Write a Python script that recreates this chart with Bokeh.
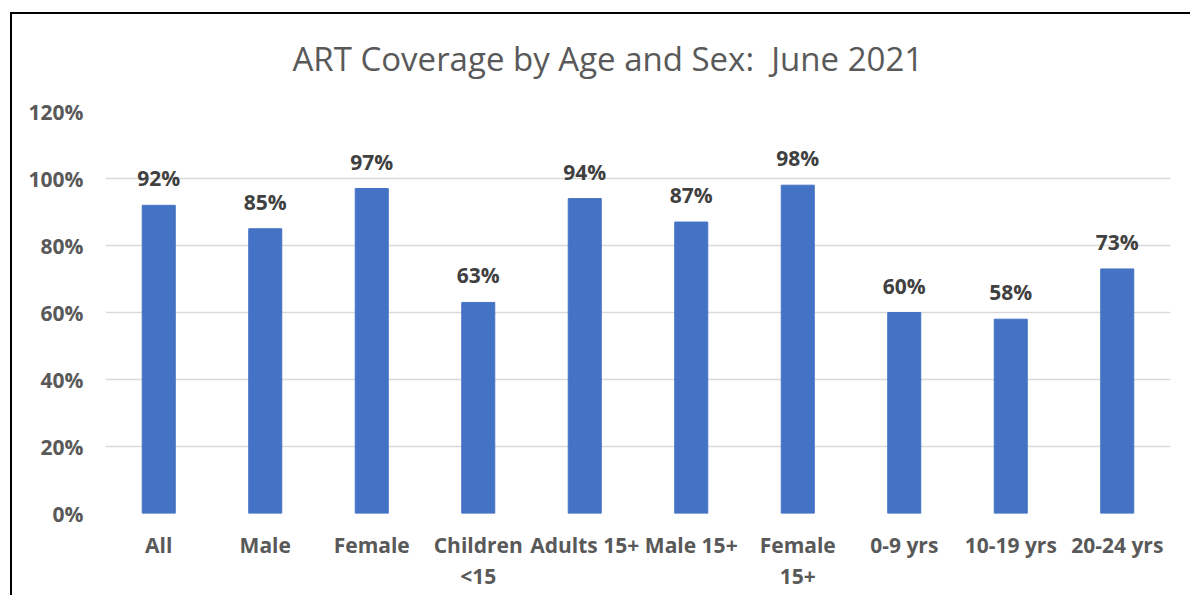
from bokeh.plotting import figure
from bokeh.models import ColumnDataSource, FixedTicker, NumeralTickFormatter
from bokeh.core.properties import value
from bokeh.embed import file_html
from bokeh.resources import INLINE

title_text = "ART Coverage by Age and Sex:\u00a0 June 2021"
categories = ["All", "Male", "Female", "Children\n<15", "Adults 15+", "Male 15+",
              "Female\n15+", "0-9 yrs", "10-19 yrs", "20-24 yrs"]
coverage = [0.92, 0.85, 0.97, 0.63, 0.94, 0.87, 0.98, 0.60, 0.58, 0.73]
labels = [f"{round(v * 100)}%" for v in coverage]
y_ticks = [0, 0.2, 0.4, 0.6, 0.8, 1.0, 1.2]

FONT = "Open Sans"

src = ColumnDataSource(dict(cat=categories, val=coverage, lab=labels))

p = figure(x_range=categories, y_range=(0, 1.2), width=1190, height=595,
           output_backend="svg", toolbar_location=None,
           min_border_left=105, min_border_right=20, min_border_top=111,
           min_border_bottom=82, outline_line_color=None,
           border_fill_color=None, background_fill_color="#FFFFFF",
           title=title_text)
# chart-area border (left and top edges; the rest runs off the page),
# painted behind the transparent canvas border area
p.styles = {
    "background": ("linear-gradient(#000000, #000000) 10px 12px / 2px 100% no-repeat, "
                   "linear-gradient(#000000, #000000) 10px 12px / 100% 2px no-repeat, "
                   "#FFFFFF"),
}
p.x_range.range_padding = 0

p.title.align = "left"
p.title.text_font = FONT
p.title.text_font_style = "normal"
p.title.text_font_size = "33px"
p.title.text_color = "#595959"
p.title.offset = 187
p.title.standoff = 62

p.vbar(x="cat", top="val", width=0.31, source=src, fill_color="#4472C4",
       line_color="#4472C4")
p.text(x="cat", y="val", text="lab", source=src, text_align="center",
       text_baseline="alphabetic", y_offset=-27, text_font=value(FONT),
       text_font_size="21px", text_font_style="bold", text_color="#404040")

p.yaxis.ticker = FixedTicker(ticks=y_ticks)
p.yaxis.formatter = NumeralTickFormatter(format="0%")
for ax in (p.xaxis, p.yaxis):
    ax.axis_line_color = None
    ax.major_tick_line_color = None
    ax.minor_tick_line_color = None
    ax.major_tick_out = 0
    ax.major_tick_in = 0
    ax.major_label_text_font = FONT
    ax.major_label_text_font_size = "21px"
    ax.major_label_text_font_style = "bold"
    ax.major_label_text_color = "#595959"
p.yaxis.major_label_standoff = 22
p.xaxis.major_label_standoff = 17
p.xaxis.major_label_text_line_height = 1.12

p.xgrid.grid_line_color = None
p.ygrid.ticker = FixedTicker(ticks=y_ticks)
p.ygrid.grid_line_color = "#D9D9D9"
p.ygrid.grid_line_width = 1.5

open("out.html", "w").write(file_html(p, INLINE))
